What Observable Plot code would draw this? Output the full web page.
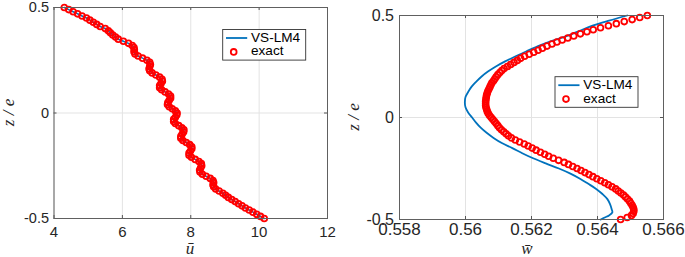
<!DOCTYPE html>
<html><head><meta charset="utf-8">
<script src="https://cdn.jsdelivr.net/npm/d3@7"></script>
<script src="https://cdn.jsdelivr.net/npm/@observablehq/plot@0.6"></script>
<style>
body{margin:0;background:#fff;}
#wrap{display:flex;width:685px;height:257px;overflow:hidden;}
#wrap svg{display:block;flex:none;}
</style></head><body><div id="wrap"></div>
<script>
// ---- data ----
const seriesNames = ["VS-LM4", "exact"];
const zTicks = [-0.5, 0, 0.5];
const uTicks = [4, 6, 8, 10, 12];
const wTicks = [0.558, 0.56, 0.562, 0.564, 0.566];

const zExact = [0.50,0.49,0.48,0.47,0.46,0.45,0.44,0.43,0.42,0.41,
0.40,0.39,0.38,0.37,0.36,0.35,0.34,0.33,0.32,0.31,
0.30,0.29,0.28,0.27,0.26,0.25,0.24,0.23,0.22,0.21,
0.20,0.19,0.18,0.17,0.16,0.15,0.14,0.13,0.12,0.11,
0.10,0.09,0.08,0.07,0.06,0.05,0.04,0.03,0.02,0.01,
0.00,-0.01,-0.02,-0.03,-0.04,-0.05,-0.06,-0.07,-0.08,-0.09,
-0.10,-0.11,-0.12,-0.13,-0.14,-0.15,-0.16,-0.17,-0.18,-0.19,
-0.20,-0.21,-0.22,-0.23,-0.24,-0.25,-0.26,-0.27,-0.28,-0.29,
-0.30,-0.31,-0.32,-0.33,-0.34,-0.35,-0.36,-0.37,-0.38,-0.39,
-0.40,-0.41,-0.42,-0.43,-0.44,-0.45,-0.46,-0.47,-0.48,-0.49,
-0.50];

const uExact = [4.30,4.43,4.56,4.69,4.82,4.95,5.05,5.15,5.25,5.35,
5.50,5.59,5.65,5.72,5.80,5.88,6.03,6.18,6.29,6.34,
6.35,6.34,6.37,6.46,6.59,6.72,6.80,6.82,6.80,6.78,
6.80,6.87,6.98,7.09,7.16,7.17,7.13,7.09,7.09,7.15,
7.25,7.35,7.41,7.41,7.37,7.33,7.32,7.37,7.46,7.55,
7.60,7.59,7.55,7.50,7.50,7.55,7.65,7.74,7.80,7.79,
7.75,7.71,7.71,7.77,7.87,7.97,8.03,8.03,7.99,7.95,
7.95,8.02,8.13,8.24,8.31,8.32,8.29,8.26,8.27,8.34,
8.45,8.57,8.65,8.67,8.65,8.67,8.73,8.83,8.94,9.02,
9.10,9.20,9.30,9.40,9.50,9.60,9.71,9.82,9.93,10.04,
10.15];
// VS-LM4 coincides with the exact u profile
const uVSLM4 = uExact.slice();

const wExact = [0.56551,0.56528,0.56505,0.56481,0.56457,0.56433,0.56409,0.56387,0.56368,0.56348,
0.56328,0.56310,0.56293,0.56277,0.56262,0.56247,0.56233,0.56220,0.56207,0.56193,
0.56179,0.56167,0.56157,0.56147,0.56137,0.56127,0.56117,0.56110,0.56104,0.56098,
0.56093,0.56089,0.56085,0.56080,0.56077,0.56074,0.56071,0.56068,0.56066,0.56064,
0.56063,0.56062,0.56061,0.56061,0.56061,0.56062,0.56064,0.56066,0.56069,0.56073,
0.56078,0.56083,0.56088,0.56093,0.56098,0.56103,0.56109,0.56116,0.56123,0.56130,
0.56139,0.56151,0.56164,0.56178,0.56190,0.56202,0.56214,0.56227,0.56240,0.56252,
0.56266,0.56282,0.56299,0.56312,0.56325,0.56338,0.56350,0.56362,0.56374,0.56386,
0.56398,0.56410,0.56422,0.56433,0.56444,0.56455,0.56463,0.56471,0.56479,0.56485,
0.56491,0.56497,0.56501,0.56505,0.56508,0.56510,0.56510,0.56508,0.56503,0.56490,
0.56470];

const zVSLM4w = [0.5,0.475,0.45,0.425,0.4,0.375,0.35,0.325,0.3,0.275,0.25,0.225,0.2,0.175,0.15,0.125,0.1,0.075,0.05,0.025,0,
-0.025,-0.05,-0.075,-0.1,-0.125,-0.15,-0.175,-0.2,-0.225,-0.25,-0.275,-0.3,-0.325,-0.35,-0.375,-0.4,-0.425,-0.45,-0.465,-0.48,-0.49,-0.5];
const wVSLM4 = [0.56490,0.56435,0.56385,0.56346,0.56308,0.56260,0.56220,0.56185,0.56152,0.56120,0.56092,0.56068,0.56048,0.56032,0.56018,0.56008,0.56000,0.55998,0.56000,0.56008,0.56020,
0.56032,0.56046,0.56064,0.56085,0.56110,0.56142,0.56172,0.56205,0.56243,0.56283,0.56318,0.56347,0.56372,0.56396,0.56415,0.56430,0.56438,0.56443,0.56445,0.56435,0.56422,0.56410];

// ---- drawing ----
const BLUE = "#0072BD", RED = "#FF0000";
const H = 257;
const SERIF = "'Liberation Serif', 'Times New Roman', serif";
const SANS = "'Liberation Sans', Arial, sans-serif";
const DOT_R = 2.9, DOT_SW = 1.8;

function panel(o) {
  const ih = H - o.mt - o.mb, iw = o.width - o.ml - o.mr;
  const lineData = o.lx.map((x, i) => ({x, z: o.lz[i]}));
  const dotData = o.dx.map((x, i) => ({x, z: o.dz[i]}));
  const svg = Plot.plot({
    width: o.width, height: H,
    marginLeft: o.ml, marginRight: o.mr, marginTop: o.mt, marginBottom: o.mb,
    style: {fontFamily: SANS, color: "#262626", overflow: "visible", background: "#fff"},
    x: {domain: o.xDomain},
    y: {domain: [-0.5, 0.5]},
    marks: [
      Plot.gridX(o.xTicks, {stroke: "#e3e3e3", strokeOpacity: 1}),
      Plot.gridY(zTicks, {stroke: "#e3e3e3", strokeOpacity: 1}),
      Plot.line(lineData, {x: "x", y: "z", stroke: BLUE, strokeWidth: o.lw, curve: o.curve}),
      Plot.dot(dotData, {x: "x", y: "z", r: DOT_R, stroke: RED, strokeWidth: DOT_SW, fill: "none"}),
      Plot.tickX(o.xTicks, {x: d => d, insetTop: ih - 3, stroke: "#555"}),
      Plot.tickX(o.xTicks, {x: d => d, insetBottom: ih - 3, stroke: "#555"}),
      Plot.tickY(zTicks, {y: d => d, insetRight: iw - 3, stroke: "#555"}),
      Plot.tickY(zTicks, {y: d => d, insetLeft: iw - 3, stroke: "#555"}),
      Plot.frame({stroke: "#606060"}),
      Plot.axisX(o.xTicks, {tickSize: 0, tickPadding: o.xPad, fontSize: o.xFont, tickFormat: d => String(d), label: null}),
      Plot.axisY(zTicks, {tickSize: 0, tickPadding: o.yPad, fontSize: o.yFont, tickFormat: d => String(d), label: null})
    ]
  });
  const s = d3.select(svg);
  // y label
  s.append("text")
    .attr("transform", `translate(${o.ylx},${o.mt + ih / 2}) rotate(-90)`)
    .attr("text-anchor", "middle").attr("dominant-baseline", "middle")
    .attr("font-family", SERIF)
    .attr("font-style", "italic").attr("font-size", 17).attr("fill", "#262626")
    .text("z / e");
  // x label
  s.append("text")
    .attr("x", o.xlx).attr("y", 254)
    .attr("text-anchor", "middle")
    .attr("font-family", SERIF)
    .attr("font-style", "italic").attr("font-size", 17).attr("fill", "#262626")
    .text(o.xLabel);
  // legend
  const g = s.append("g").attr("transform", `translate(${o.legX},${o.legY})`);
  g.append("rect").attr("x", 0).attr("y", 0).attr("width", 83).attr("height", 30.6)
    .attr("fill", "#fff").attr("stroke", "#333").attr("stroke-width", 0.9);
  g.append("line").attr("x1", 3.3).attr("x2", 24.5).attr("y1", 8.5).attr("y2", 8.5)
    .attr("stroke", BLUE).attr("stroke-width", 1.8);
  g.append("circle").attr("cx", 11).attr("cy", 22.4).attr("r", DOT_R)
    .attr("fill", "none").attr("stroke", RED).attr("stroke-width", DOT_SW);
  g.append("text").attr("x", 28.3).attr("y", 8.8).attr("dominant-baseline", "middle")
    .attr("text-anchor", "start")
    .attr("font-family", SANS).attr("font-size", 13.6).attr("fill", "#000").text(seriesNames[0]);
  g.append("text").attr("x", 28.3).attr("y", 22.4).attr("dominant-baseline", "middle")
    .attr("text-anchor", "start")
    .attr("font-family", SANS).attr("font-size", 13.6).attr("fill", "#000").text(seriesNames[1]);
  return svg;
}

const wrap = document.getElementById("wrap");
wrap.appendChild(panel({
  width: 340, ml: 53.5, mr: 13, mt: 7, mb: 39,
  xDomain: [4, 12], xTicks: uTicks, xPad: 8, yPad: 5, xFont: 15, yFont: 14.5,
  lx: uVSLM4, lz: zExact, dx: uExact, dz: zExact, lw: 1.6, curve: "linear",
  ylx: 10, xlx: 190, xLabel: "ū", legX: 222.7, legY: 29.5
}));
wrap.appendChild(panel({
  width: 345, ml: 59, mr: 22, mt: 15, mb: 38,
  xDomain: [0.558, 0.566], xTicks: wTicks, xPad: 3, yPad: 5.5, xFont: 17, yFont: 16,
  lx: wVSLM4, lz: zVSLM4w, dx: wExact, dz: zExact, lw: 1.8, curve: "catmull-rom",
  ylx: 15, xlx: 187, xLabel: "w\u0304", legX: 215, legY: 76.7
}));
</script>
</body></html>
